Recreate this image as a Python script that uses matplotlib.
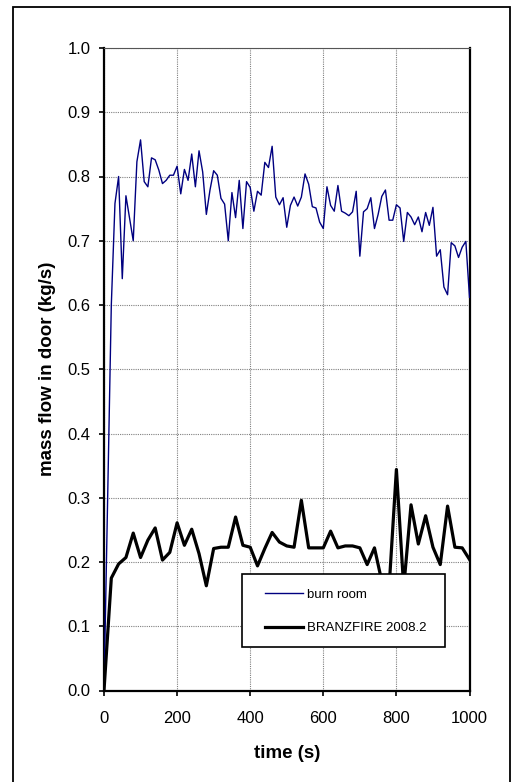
import numpy as np
import matplotlib
matplotlib.use("Agg")
import matplotlib.pyplot as plt
from matplotlib.patches import Rectangle

plt.rcParams['font.family'] = ['Liberation Sans', 'DejaVu Sans']

# burn room measurement, 10 s steps (plus the first two points)
burn_time = [0, 20] + list(range(30, 1001, 10))
burn_flow = [0.0, 0.60,
             0.758, 0.800, 0.641, 0.770, 0.735, 0.700, 0.823, 0.857, 0.792, 0.784,
             0.829, 0.826, 0.810, 0.789, 0.794, 0.802, 0.802, 0.816, 0.773, 0.811,
             0.794, 0.835, 0.784, 0.840, 0.807, 0.741, 0.779, 0.809, 0.802, 0.766,
             0.757, 0.700, 0.775, 0.736, 0.794, 0.719, 0.792, 0.783, 0.746, 0.777,
             0.771, 0.822, 0.814, 0.847, 0.768, 0.756, 0.767, 0.721, 0.755, 0.768,
             0.754, 0.768, 0.804, 0.788, 0.753, 0.751, 0.729, 0.719, 0.784, 0.755,
             0.746, 0.786, 0.746, 0.743, 0.739, 0.745, 0.777, 0.676, 0.745, 0.750,
             0.767, 0.719, 0.741, 0.769, 0.779, 0.732, 0.732, 0.756, 0.751, 0.699,
             0.744, 0.737, 0.725, 0.737, 0.714, 0.744, 0.724, 0.752, 0.676, 0.686,
             0.628, 0.616, 0.697, 0.692, 0.674, 0.690, 0.699, 0.612]

# BRANZFIRE 2008.2 model, 20 s steps
model_time = list(range(0, 1001, 20))
model_flow = [0.0, 0.175, 0.197, 0.207, 0.245, 0.207, 0.234, 0.253, 0.203, 0.215,
              0.261, 0.226, 0.251, 0.213, 0.163, 0.221, 0.223, 0.223, 0.270, 0.226,
              0.223, 0.194, 0.221, 0.246, 0.231, 0.225, 0.223, 0.296, 0.222, 0.222,
              0.222, 0.248, 0.222, 0.225, 0.225, 0.222, 0.196, 0.222, 0.170, 0.160,
              0.344, 0.160, 0.289, 0.228, 0.272, 0.223, 0.196, 0.287, 0.223, 0.222,
              0.204]

x_ticks = [0, 200, 400, 600, 800, 1000]
y_ticks = [0.0, 0.1, 0.2, 0.3, 0.4, 0.5, 0.6, 0.7, 0.8, 0.9, 1.0]

W, H = 515, 782
fig = plt.figure(figsize=(W / 100, H / 100), dpi=100)
ax = fig.add_axes([104 / W, 1 - 690.5 / H, 365.5 / W, 642.5 / H])

ax.plot(burn_time, burn_flow, color='#000080', lw=1.0, label='burn room', zorder=3)
ax.plot(model_time, model_flow, color='black', lw=2.3, label='BRANZFIRE 2008.2', zorder=3)

ax.set_xlim(0, 1000)
ax.set_ylim(0, 1.0)
ax.set_xticks(x_ticks)
ax.set_yticks(y_ticks)
ax.set_yticklabels(['%.1f' % v for v in y_ticks])
ax.tick_params(direction='out', length=3.6, width=1.2, labelsize=12)
ax.tick_params(axis='x', pad=11.5)
ax.tick_params(axis='y', pad=6)
ax.grid(True, color='#808080', linestyle=(0, (1, 1)), lw=0.8)
ax.set_axisbelow(True)
for s in ['left', 'bottom', 'right']:
    ax.spines[s].set_linewidth(1.6)
ax.spines['top'].set_linewidth(0.8)
ax.spines['top'].set_color('#555555')

ax.set_xlabel('time (s)', fontsize=13.5, fontweight='bold', labelpad=13)
ax.set_ylabel('mass flow in door (kg/s)', fontsize=13.5, fontweight='bold', labelpad=8)

# legend box drawn by hand, entries without frame
box = Rectangle((242 / W, 1 - 647 / H), 203 / W, 73 / H, transform=fig.transFigure,
                facecolor='white', edgecolor='black', lw=1.2, zorder=4)
ax.add_patch(box)
leg = ax.legend(loc='upper left', bbox_to_anchor=(258 / W, 1 - 582 / H),
                bbox_transform=fig.transFigure, frameon=False, fontsize=9.5,
                handlelength=2.9, handletextpad=0.3, labelspacing=1.6, borderpad=0)
leg.set_zorder(5)

# outer frame of the chart
fig.patches.append(Rectangle((13 / W, -0.01), 497 / W, 1 - 7 / H + 0.01,
                             transform=fig.transFigure, fill=False,
                             edgecolor='black', lw=1.3))

fig.savefig('out.png', dpi=100)
